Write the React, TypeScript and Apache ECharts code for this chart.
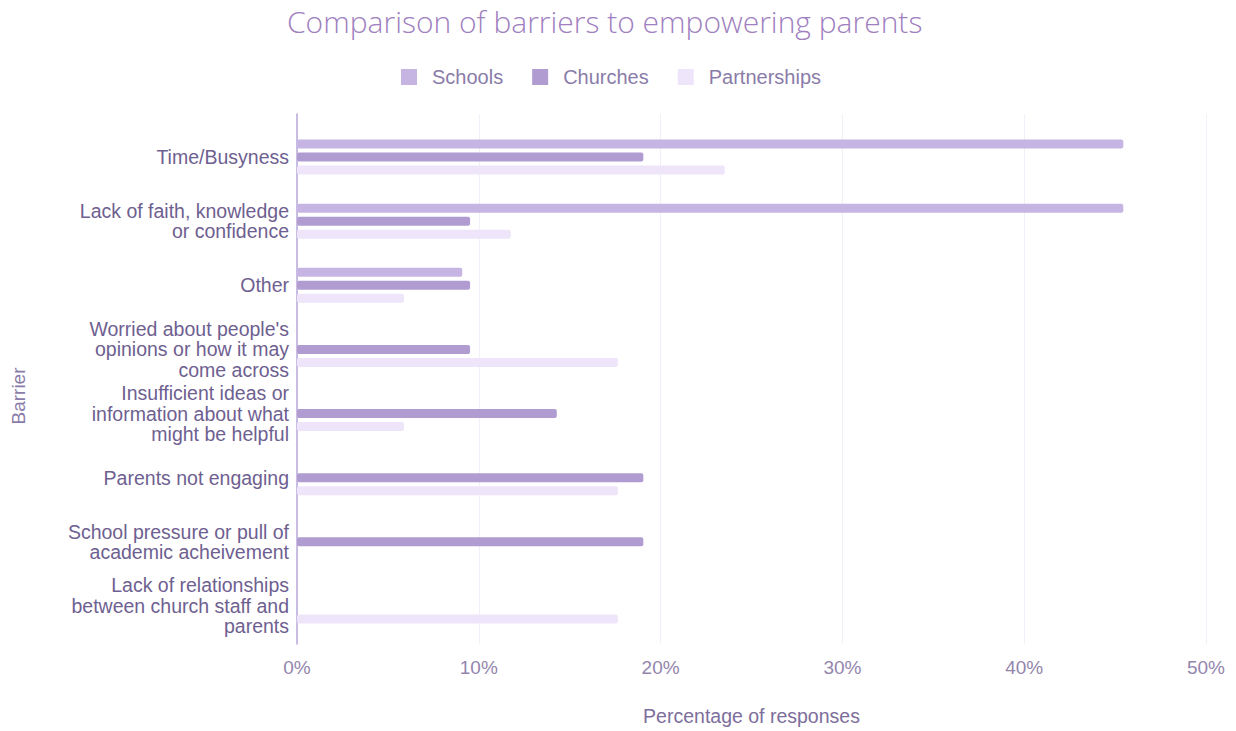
import React, { useEffect, useRef } from "react";
import * as echarts from "echarts";

const categories = [
  "Time/Busyness",
  "Lack of faith, knowledge\nor confidence",
  "Other",
  "Worried about people's\nopinions or how it may\ncome across",
  "Insufficient ideas or\ninformation about what\nmight be helpful",
  "Parents not engaging",
  "School pressure or pull of\nacademic acheivement",
  "Lack of relationships\nbetween church staff and\nparents",
];
const schools = [45.45, 45.45, 9.09, 0, 0, 0, 0, 0];
const churches = [19.05, 9.52, 9.52, 9.52, 14.29, 19.05, 19.05, 0];
const partnerships = [23.53, 11.76, 5.88, 17.65, 5.88, 17.65, 0, 17.65];
const seriesNames = ["Schools", "Churches", "Partnerships"];
const colors = ["#c6b5e2", "#b09cd1", "#eee5fa"];

export default function App() {
  const ref = useRef<HTMLDivElement>(null);
  useEffect(() => {
    if (!ref.current) return;
    const chart = echarts.init(ref.current, null, { renderer: "svg" });
    const font = "Arial, 'Liberation Sans', sans-serif";
    const values = [schools, churches, partnerships];
    chart.setOption({
      animation: false,
      backgroundColor: "#ffffff",
      color: colors,
      title: {
        text: "Comparison of barriers to empowering parents",
        left: 282,
        top: 1,
        textStyle: {
          fontFamily: "'Open Sans'",
          fontWeight: 300,
          fontSize: 30,
          color: "#a080c0",
        },
      },
      legend: {
        top: 62,
        left: 396,
        icon: "rect",
        itemWidth: 16,
        itemHeight: 16,
        itemGap: 29,
        textStyle: {
          color: "#8a7ca8",
          fontSize: 20,
          fontFamily: font,
          padding: [0, 0, 0, 10],
        },
        data: seriesNames,
      },
      grid: [
        { left: 297, right: 30, top: 125, height: 513 },
        { left: 297, right: 30, top: 114, height: 534 },
      ],
      xAxis: [
        { gridIndex: 0, type: "value", min: 0, max: 50, show: false },
        {
          gridIndex: 1,
          type: "value",
          min: 0,
          max: 50,
          interval: 10,
          axisLine: { show: false },
          axisTick: { show: false },
          splitLine: { lineStyle: { color: "#f2eff8", width: 1 } },
          axisLabel: {
            formatter: "{value}%",
            color: "#9386ad",
            fontSize: 19,
            fontFamily: font,
            margin: 14,
          },
          name: "Percentage of responses",
          nameLocation: "middle",
          nameGap: 62,
          nameTextStyle: { color: "#7d6e9c", fontSize: 19.5, fontFamily: font },
        },
      ],
      yAxis: [
        {
          gridIndex: 0,
          type: "category",
          data: categories,
          inverse: true,
          axisLine: { show: false },
          axisTick: { show: false },
          splitLine: { show: false },
          axisLabel: {
            color: "#6e6090",
            fontSize: 19.5,
            lineHeight: 20.5,
            fontFamily: font,
            margin: 8,
            align: "right",
          },
        },
        {
          gridIndex: 1,
          type: "value",
          min: 0,
          max: 1,
          axisLine: { show: true, lineStyle: { color: "#b9a8da", width: 1.5 } },
          axisTick: { show: false },
          axisLabel: { show: false },
          splitLine: { show: false },
        },
      ],
      graphic: [
        {
          type: "text",
          x: 18,
          y: 396,
          rotation: Math.PI / 2,
          style: {
            text: "Barrier",
            fill: "#8a7ca8",
            fontSize: 19,
            fontFamily: font,
            align: "center",
            verticalAlign: "middle",
          },
        },
      ],
      series: seriesNames.map((name, i) => ({
        name,
        type: "bar",
        xAxisIndex: 0,
        yAxisIndex: 0,
        data: values[i],
        barWidth: 9,
        barGap: "45%",
        itemStyle: { color: colors[i], borderRadius: 2 },
      })),
    });
    return () => chart.dispose();
  }, []);
  return (
    <div
      ref={ref}
      style={{ position: "absolute", left: 0, top: 0, width: 1236, height: 731 }}
    />
  );
}
